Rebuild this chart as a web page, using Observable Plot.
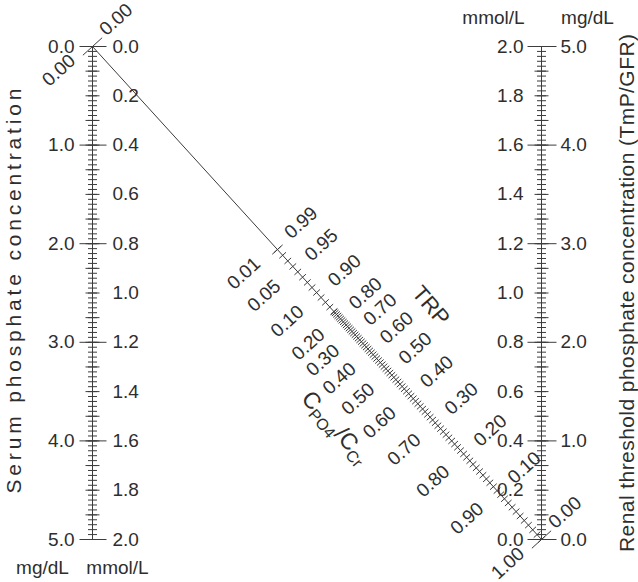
<!DOCTYPE html>
<html><head><meta charset="utf-8">
<script src="https://cdn.jsdelivr.net/npm/d3@7"></script>
<script src="https://cdn.jsdelivr.net/npm/@observablehq/plot@0.6"></script>
<style>body{margin:0;background:#fff}</style>
</head><body><div id="chart"></div>
<script>
// ---- data ----
const mgdlLabels = [0, 1, 2, 3, 4, 5];
const mmolLabels = [0, 0.2, 0.4, 0.6, 0.8, 1.0, 1.2, 1.4, 1.6, 1.8, 2.0];
const axisMinorStep = 0.05;   // mg/dL
const axisMediumStep = 0.25;  // mg/dL (0.1 mmol/L)
const trpLabelValues = [0.99, 0.95, 0.90, 0.80, 0.70, 0.60, 0.50, 0.40, 0.30, 0.20, 0.10, 0.00];
const cLabelText = ["0.01", "0.05", "0.10", "0.20", "0.30", "0.40", "0.50", "0.60", "0.70", "0.80", "0.90", "1.00"];
const originLabels = ["0.00", "0.00"];
const trpTickValues = d3.range(0, 100).map(i => i / 100);

// nomogram relation: TmP/GFR = ratio(TRP) * serum phosphate
const ratio = t => t <= 0.86 ? t : 0.3 * t / (1 - 0.8 * t);
const diagU = t => 1 / (1 + ratio(t));

const axisMinor = d3.range(0, 101).map(i => i * axisMinorStep);
const axisMedium = d3.range(0, 21).map(i => i * axisMediumStep);

const ink = "#3c3c3c";
const txt = "#2e2e2e";
const font = "Liberation Sans, Arial, Helvetica, sans-serif";

const ang = -42.3 * Math.PI / 180;
const n = [Math.cos(ang), Math.sin(ang)];
const dvec = [-n[1], n[0]];
function seg(dir, a, b) {
  return {draw(ctx) { ctx.moveTo(a * dir[0], a * dir[1]); ctx.lineTo(b * dir[0], b * dir[1]); }};
}
const H = [1, 0];

const diagTicks = trpTickValues.map(t => ({u: diagU(t), t}));
const trpLabels = trpLabelValues.map((t, i) => ({u: diagU(t), trp: t.toFixed(2), c: cLabelText[i]}));

const off = (a, b) => [a * n[0] + b * dvec[0], a * n[1] + b * dvec[1]];
const trpOff = off(17, -4);
const cOff = off(-22.5, -5);

const plot = Plot.plot({
  width: 638, height: 582,
  marginLeft: 92, marginRight: 97, marginTop: 46, marginBottom: 43,
  x: {domain: [0, 1], axis: null},
  y: {domain: [0, 5], reverse: true, axis: null},
  style: {fontFamily: font, fontSize: "19px", color: txt, background: "#fff"},
  marks: [
    // axes lines
    Plot.ruleX([0, 1], {y1: 0, y2: 5, stroke: ink, strokeWidth: 1}),
    // diagonal
    Plot.link([{u0: 0, u1: 1}], {x1: "u0", y1: d => 5 * d.u0, x2: "u1", y2: d => 5 * d.u1, stroke: ink, strokeWidth: 1}),
    // left axis ticks
    Plot.dot(axisMinor, {x: 0, y: d => d, symbol: seg(H, -4.5, 4.5), stroke: ink, fill: "none", strokeWidth: 1}),
    Plot.dot(axisMedium, {x: 0, y: d => d, symbol: seg(H, -7, 7), stroke: ink, fill: "none", strokeWidth: 1}),
    Plot.dot(mgdlLabels, {x: 0, y: d => d, symbol: seg(H, -13, 14), stroke: ink, fill: "none", strokeWidth: 1}),
    // right axis ticks
    Plot.dot(axisMinor, {x: 1, y: d => 5 - d, symbol: seg(H, -4.5, 4.5), stroke: ink, fill: "none", strokeWidth: 1}),
    Plot.dot(axisMedium, {x: 1, y: d => 5 - d, symbol: seg(H, -7, 7), stroke: ink, fill: "none", strokeWidth: 1}),
    Plot.dot(mgdlLabels, {x: 1, y: d => 5 - d, symbol: seg(H, -14, 15), stroke: ink, fill: "none", strokeWidth: 1}),
    // diagonal ticks
    Plot.dot(diagTicks, {x: "u", y: d => 5 * d.u, symbol: seg(n, -4.5, 4.5), stroke: ink, fill: "none", strokeWidth: 1}),
    Plot.dot(trpLabels.slice(0, 1), {x: "u", y: d => 5 * d.u, symbol: seg(n, -7, 7), stroke: ink, fill: "none", strokeWidth: 1}),
    Plot.dot([0, 1], {x: d => d, y: d => 5 * d, symbol: seg(n, -13, 13), stroke: ink, fill: "none", strokeWidth: 1}),
    // left labels
    Plot.text(mgdlLabels, {x: 0, y: d => d, text: d => d.toFixed(1), textAnchor: "end", dx: -18, fill: txt}),
    Plot.text(mmolLabels, {x: 0, y: d => d * 2.5, text: d => d.toFixed(1), textAnchor: "start", dx: 20, fill: txt}),
    // right labels
    Plot.text(mmolLabels, {x: 1, y: d => 5 - d * 2.5, text: d => d.toFixed(1), textAnchor: "end", dx: -18, fill: txt}),
    Plot.text(mgdlLabels, {x: 1, y: d => 5 - d, text: d => d.toFixed(1), textAnchor: "start", dx: 19, fill: txt}),
    // unit headers
    Plot.text(["mmol/L"], {x: 1, y: 0, text: d => d, dx: -48, dy: -29, fill: txt}),
    Plot.text(["mg/dL"], {x: 1, y: 0, text: d => d, dx: 46, dy: -29, fill: txt}),
    Plot.text(["mg/dL"], {x: 0, y: 5, text: d => d, dx: -50, dy: 28, fill: txt}),
    Plot.text(["mmol/L"], {x: 0, y: 5, text: d => d, dx: 25, dy: 28, fill: txt}),
    // axis titles
    Plot.text(["Serum phosphate concentration"], {frameAnchor: "left", text: d => d, rotate: -90, textAnchor: "middle", dx: -78, dy: -2, fill: txt, fontSize: 21}),
    Plot.text(["Renal threshold phosphate concentration (TmP/GFR)"], {frameAnchor: "right", text: d => d, rotate: -90, textAnchor: "middle", dx: 86, dy: 0, fill: txt, fontSize: 21}),
    // diagonal labels
    Plot.text(trpLabels, {x: "u", y: d => 5 * d.u, text: "trp", rotate: -42.3, textAnchor: "start", dx: trpOff[0], dy: trpOff[1], fill: txt}),
    Plot.text(trpLabels, {x: "u", y: d => 5 * d.u, text: "c", rotate: -42.3, textAnchor: "end", dx: cOff[0], dy: cOff[1], fill: txt}),
    Plot.text([originLabels[0]], {x: 0, y: 0, text: d => d, rotate: -42.3, textAnchor: "start", dx: trpOff[0], dy: trpOff[1], fill: txt}),
    Plot.text([originLabels[1]], {x: 0, y: 0, text: d => d, rotate: -42.3, textAnchor: "end", dx: cOff[0], dy: cOff[1], fill: txt}),
    // scale names
    Plot.text(["TRP"], {x: diagU(0.59), y: 5 * diagU(0.59), text: d => d, rotate: 49, dx: off(75.5, 0)[0], dy: off(75.5, 0)[1], fill: txt, fontSize: 22}),
    Plot.text(["CPO4/CCr"], {x: diagU(0.55), y: 5 * diagU(0.55), text: d => d, rotate: 50, dx: off(-78, 15)[0], dy: off(-78, 15)[1], fill: txt, fontSize: 23})
  ]
});

const svg = d3.select(plot);
svg.selectAll("text").filter(function() { return this.textContent === "CPO4/CCr"; }).each(function() {
  const t = d3.select(this);
  t.text(null);
  t.append("tspan").text("C");
  t.append("tspan").attr("dy", "0.3em").attr("font-size", 16).text("PO4");
  t.append("tspan").attr("dy", "-0.3em").text("/C");
  t.append("tspan").attr("dy", "0.3em").attr("font-size", 16).text("Cr");
});
svg.selectAll("text").filter(function() { return this.textContent === "Serum phosphate concentration"; })
  .attr("textLength", 405).attr("lengthAdjust", "spacing");
svg.selectAll("text").filter(function() { return this.textContent === "Renal threshold phosphate concentration (TmP/GFR)"; })
  .attr("textLength", 518).attr("lengthAdjust", "spacing");

document.getElementById("chart").append(plot);
</script>
</body></html>
